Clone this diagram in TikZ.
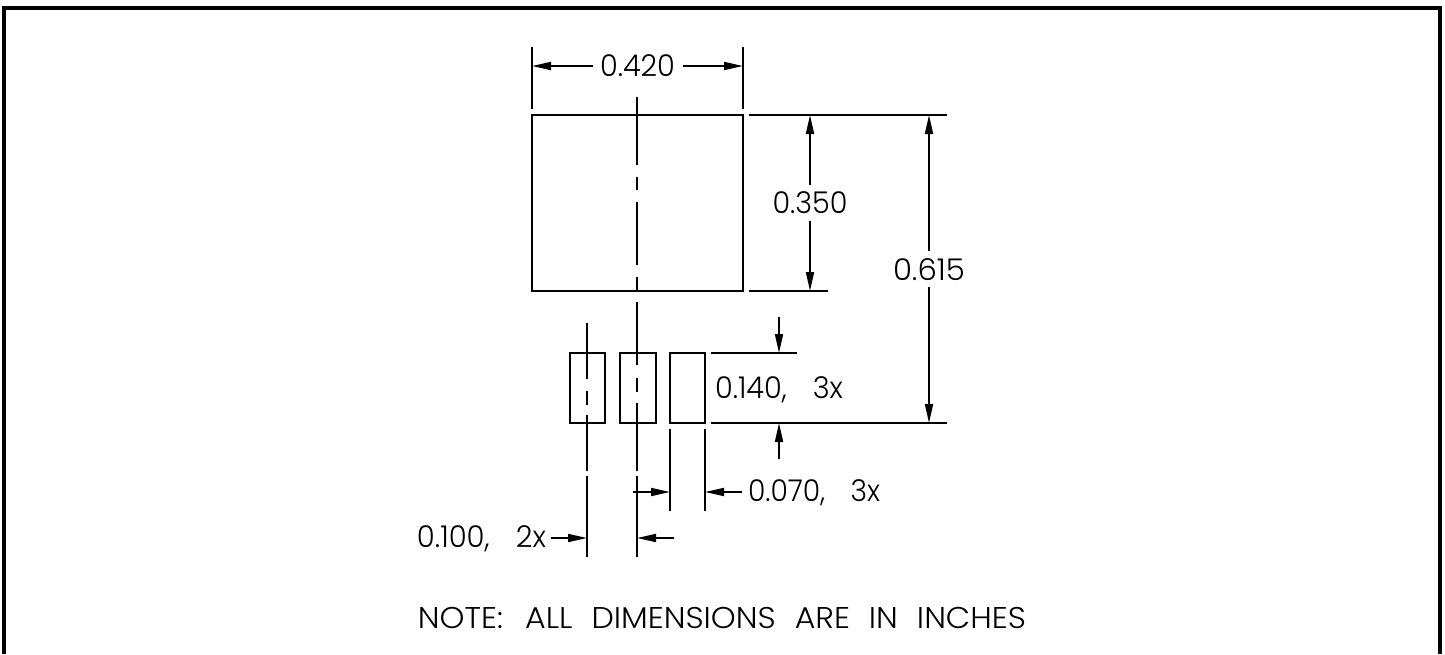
\documentclass[tikz,border=0pt]{standalone}
\usepackage{graphicx}
\usepackage{fontspec}
\setmainfont{Poppins}[UprightFont=* Light]
\usetikzlibrary{arrows.meta}
\newcommand{\fittext}[2]{\resizebox{#1pt}{\height}{\fontsize{30}{30}\selectfont #2}}
\tikzset{
  thinline/.style={line width=1.8pt,black},
  dimline/.style={thinline,-{Triangle[length=19pt,width=8pt]}},
  label/.style={inner sep=0pt,outer sep=0pt,anchor=center}
}
\begin{document}
\begin{tikzpicture}[x=1pt,y=-1pt]
\useasboundingbox (0,0) rectangle (1445,654);
% frame
\draw[line width=4pt,line cap=butt] (4,654) -- (4,8) -- (1440,8) -- (1440,654);
% body
\draw[thinline] (532,115) rectangle (743,291);
\foreach \x/\y in {570/605,620/656,670/705}
  \draw[thinline] (\x,353) rectangle (\y,423);
% centre lines
\foreach \a/\b in {97/165,177/190,202/265,277/291,302/365,378/392,403/471,476/557}
  \draw[thinline] (637,\a) -- (637,\b);
\foreach \a/\b in {323/379,391/405,415/471,476/557}
  \draw[thinline] (587,\a) -- (587,\b);
% extension lines
\draw[thinline] (532,47) -- (532,109);
\draw[thinline] (743,47) -- (743,109);
\draw[thinline] (749,115) -- (947,115);
\draw[thinline] (749,291) -- (828,291);
\draw[thinline] (711,353) -- (797,353);
\draw[thinline] (711,423) -- (947,423);
\draw[thinline] (670,429) -- (670,511);
\draw[thinline] (705,429) -- (705,511);
% labels
\node[label] (w420) at (637.5,66) {\fittext{75}{0.420}};
\node[label] (h350) at (810,203) {\fittext{75}{0.350}};
\node[label] (h615) at (929,270) {\fittext{72}{0.615}};
\node[label] (t140) at (779,389.5) {\fittext{128}{0.140,\hspace{0.9em}3x}};
\node[label] (t070) at (814,492.5) {\fittext{132}{0.070,\hspace{0.9em}3x}};
\node[label] (t100) at (481.5,538.5) {\fittext{129}{0.100,\hspace{0.9em}2x}};
\node[label] (note) at (722,618) {\fittext{608}{NOTE:\hspace{0.7em}ALL\hspace{0.6em}DIMENSIONS\hspace{0.6em}ARE\hspace{0.6em}IN\hspace{0.6em}INCHES}};
% dimension arrows
\draw[dimline] (593,66) -- (532,66);
\draw[dimline] (683,66) -- (743,66);
\draw[dimline] (810,185) -- (810,115);
\draw[dimline] (810,221) -- (810,291);
\draw[dimline] (929,251) -- (929,115);
\draw[dimline] (929,287) -- (929,423);
\draw[dimline] (779,317) -- (779,353);
\draw[dimline] (779,459) -- (779,423);
\draw[dimline] (633,492) -- (670,492);
\draw[dimline] (742,492) -- (705,492);
\draw[dimline] (551,538) -- (587,538);
\draw[dimline] (674,538) -- (637,538);
\end{tikzpicture}
\end{document}
